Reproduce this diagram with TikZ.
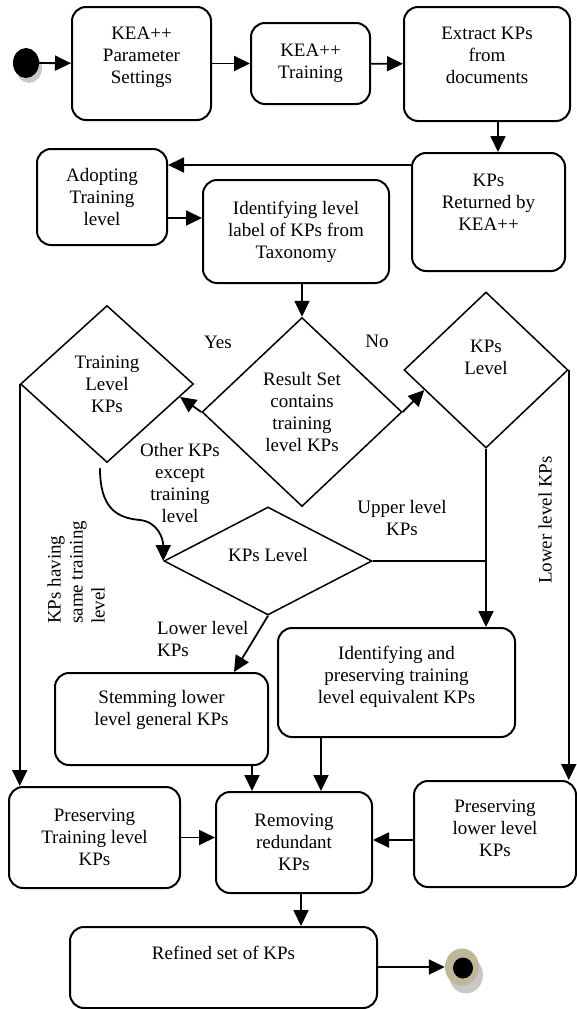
\documentclass[tikz,border=0pt]{standalone}
\usepackage{fontspec}
\setmainfont{Liberation Serif}
\usetikzlibrary{arrows.meta,positioning,calc,shapes.geometric}
\definecolor{ringtan}{RGB}{190,184,152}
\definecolor{shadowgray}{RGB}{200,200,200}

\begin{document}
\begin{tikzpicture}[x=1pt,y=-1pt,
  every node/.style={font=\fontsize{19}{22}\selectfont,align=center,inner sep=0pt},
  stepbox/.style={draw,line width=2pt,rounded corners=14pt},
  choice/.style={draw,diamond,line width=1.5pt},
  lift/.style={text depth=#1},
  flow/.style={line width=1.8pt,-{Triangle[length=16pt,width=15pt]}},
  plain/.style={line width=1.8pt}]
  \useasboundingbox (0,0) rectangle (577,1009);

  \fill[shadowgray] (29,68) ellipse [x radius=13pt,y radius=15pt];
  \node[ellipse,fill=black,minimum width=26pt,minimum height=30pt] (start) at (26,63) {};

  \node[stepbox,lift=17pt,minimum width=139pt,minimum height=113pt] (para) at (141.5,63.5) {KEA++\\Parameter\\Settings};
  \node[stepbox,minimum width=119pt,minimum height=81pt] (train) at (310.5,63.5) {KEA++\\Training};
  \node[stepbox,lift=18pt,minimum width=166pt,minimum height=114pt] (extract) at (487,64) {Extract KPs\\from\\documents};
  \node[stepbox,lift=20pt,minimum width=153pt,minimum height=118pt] (returned) at (488.5,212) {KPs\\Returned by\\KEA++};
  \node[stepbox,minimum width=130pt,minimum height=96pt] (adopt) at (102,197) {Adopting\\Training\\level};
  \node[stepbox,minimum width=186pt,minimum height=103pt] (ident) at (296,231.5) {Identifying level\\label of KPs from\\Taxonomy};

  \node[choice,minimum width=200pt,minimum height=189pt] (result) at (302,412) {Result Set\\contains\\training\\level KPs};
  \node[choice,minimum width=173pt,minimum height=157pt] (trainlvl) at (107,384) {Training\\Level\\KPs};
  \node[choice,lift=26pt,minimum width=164pt,minimum height=156pt] (kplevel) at (486,370) {KPs\\Level};
  \node[choice,lift=12pt,minimum width=208pt,minimum height=108pt] (kplevel2) at (268,561) {KPs Level};

  \node[stepbox,lift=22pt,minimum width=213pt,minimum height=92pt] (stem) at (161.5,719) {Stemming lower\\level general KPs};
  \node[stepbox,lift=15pt,minimum width=237pt,minimum height=109pt] (equiv) at (396.5,682.5) {Identifying and\\preserving training\\level equivalent KPs};
  \node[stepbox,minimum width=171pt,minimum height=101pt] (prestrain) at (94.5,837.5) {Preserving\\Training level\\KPs};
  \node[stepbox,minimum width=156pt,minimum height=101pt] (remove) at (294,842.5) {Removing\\redundant\\KPs};
  \node[stepbox,lift=12pt,minimum width=162pt,minimum height=106pt] (preslow) at (495,834) {Preserving\\lower level\\KPs};
  \node[stepbox,lift=30pt,minimum width=307pt,minimum height=81pt] (refined) at (223.5,967.5) {Refined set of KPs};

  \fill[shadowgray] (466,975) ellipse [x radius=17pt,y radius=18.5pt];
  \node[ellipse,fill=ringtan,minimum width=34pt,minimum height=37pt] (finish) at (462,967) {};
  \fill[black] (463,968) ellipse [x radius=10pt,y radius=10.5pt];

  \node (yes) at (218,342) {Yes};
  \node (no) at (377,341) {No};
  \node (other) at (180,483) {Other KPs\\except\\training\\level};
  \node (upper) at (402,518) {Upper level\\KPs};
  \node[align=left,anchor=west] (lower) at (157,639) {Lower level\\KPs};
  \node[align=left,anchor=west,rotate=90] (same) at (76,624) {KPs having\\same training\\level};
  \node[rotate=90] (lowerside) at (545,520) {Lower level KPs};
  \coordinate (bend) at (140,520);

  \draw[flow] (start) -- (para);
  \draw[flow] (para) -- (train);
  \draw[flow] (train) -- (extract);
  \draw[flow] ([xshift=11pt]extract.south) -- ([xshift=11pt]extract.south |- returned.north);
  \draw[flow] ([yshift=-13pt]returned.north west) -- ([yshift=-13pt]returned.north west -| adopt.east);
  \draw[flow] ([yshift=-21pt]adopt.east) -- ([yshift=-21pt]adopt.east -| ident.west);
  \draw[flow] (result.north |- ident.south) -- (result.north);
  \draw[flow] (result.west) -- (trainlvl.-10);
  \draw[flow] (result.east) -- (kplevel.198);
  \draw[flow] (trainlvl.west) -- (trainlvl.west |- prestrain.north);
  \draw[flow] ([xshift=-7pt,yshift=-5pt]trainlvl.south) .. controls +(0,38) and +(-25,-2) .. (bend)
    .. controls +(18,2) and +(0,-22) .. (kplevel2.west);
  \draw[plain] (kplevel2.east) -- (kplevel2.east -| kplevel.south);
  \draw[flow] (kplevel.south) -- (kplevel.south |- equiv.north);
  \draw[flow] (kplevel.east) -- (kplevel.east |- preslow.north);
  \draw[flow] (kplevel2.south) -- ([xshift=-35pt]stem.north east);
  \draw[flow] ([xshift=-17pt]stem.south east) -- ([xshift=-17pt]stem.south east |- remove.north);
  \draw[flow] ([xshift=44pt]equiv.south west) -- ([xshift=44pt]equiv.south west |- remove.north);
  \draw[flow] (prestrain.east) -- (prestrain.east -| remove.west);
  \draw[flow] ([yshift=-6pt]preslow.west) -- ([yshift=-6pt]preslow.west -| remove.east);
  \draw[flow] ([xshift=7pt]remove.south) -- ([xshift=7pt]remove.south |- refined.north);
  \draw[flow] (refined.east |- finish.west) -- (finish.west);
\end{tikzpicture}
\end{document}
